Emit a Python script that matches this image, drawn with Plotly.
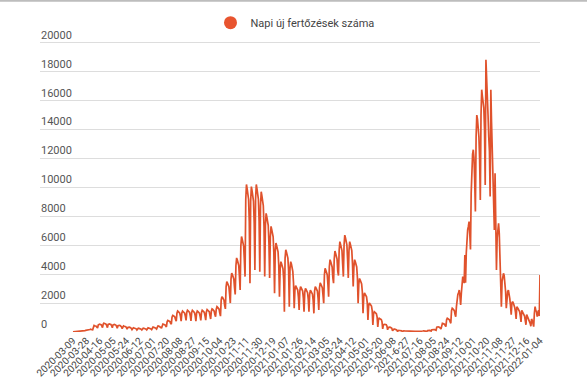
import pandas as pd
import plotly.graph_objects as go

# ---- categories (daily dates, one day missing in source, one odd label) ----
all_days = pd.date_range("2020-03-09", "2022-01-04", freq="D")
all_days = all_days[all_days != pd.Timestamp("2021-08-01")]
dates = [d.strftime("%Y-%m-%d") for d in all_days]
dates = ["2021-6-27" if d == "2021-06-27" else d for d in dates]

tick_labels = [
    "2020-03-09", "2020-03-28", "2020-04-16", "2020-05-05", "2020-05-24", "2020-06-12",
    "2020-07-01", "2020-07-20", "2020-08-08", "2020-08-27", "2020-09-15", "2020-10-04",
    "2020-10-23", "2020-11-11", "2020-11-30", "2020-12-19", "2021-01-07", "2021-01-26",
    "2021-02-14", "2021-03-05", "2021-03-24", "2021-04-12", "2021-05-01", "2021-05-20",
    "2021-06-08", "2021-6-27", "2021-07-16", "2021-08-05", "2021-08-24", "2021-09-12",
    "2021-10-01", "2021-10-20", "2021-11-08", "2021-11-27", "2021-12-16", "2022-01-04",
]
y_ticks = [0, 2000, 4000, 6000, 8000, 10000, 12000, 14000, 16000, 18000, 20000]

# ---- daily new infections (one row per week) ----
cases_2020_2021 = [
    5, 8, 10, 12, 15, 20, 15,
    15, 25, 35, 45, 50, 60, 55,
    45, 70, 85, 100, 110, 120, 100,
    90, 130, 150, 170, 190, 200, 160,
    150, 380, 450, 430, 420, 400, 330,
    280, 500, 560, 540, 520, 500, 420,
    300, 550, 610, 580, 560, 540, 450,
    300, 520, 580, 560, 540, 520, 430,
    290, 490, 540, 520, 500, 480, 400,
    260, 430, 480, 460, 450, 430, 360,
    230, 380, 420, 400, 390, 370, 310,
    190, 310, 340, 330, 320, 300, 250,
    160, 260, 290, 280, 270, 260, 220,
    140, 240, 260, 250, 240, 230, 195,
    140, 235, 260, 255, 245, 235, 200,
    150, 260, 290, 280, 270, 260, 215,
    170, 305, 340, 330, 320, 305, 255,
    210, 380, 420, 410, 395, 380, 315,
    260, 490, 550, 530, 515, 495, 410,
    350, 700, 800, 780, 750, 720, 600,
    550, 1030, 1150, 1120, 1080, 1040, 860,
    750, 1300, 1450, 1410, 1360, 1300, 1090,
    750, 1310, 1450, 1400, 1370, 1300, 1080,
    800, 1350, 1500, 1460, 1410, 1350, 1120,
    760, 1350, 1500, 1450, 1420, 1340, 1110,
    750, 1300, 1450, 1410, 1370, 1310, 1090,
    800, 1350, 1500, 1460, 1420, 1350, 1120,
    820, 1400, 1550, 1500, 1460, 1400, 1160,
    900, 1440, 1600, 1560, 1500, 1440, 1200,
    1060, 1580, 1750, 1700, 1650, 1580, 1310,
    1100, 2200, 2440, 2380, 2300, 2200, 1830,
    1600, 3130, 3480, 3380, 3270, 3130, 2600,
    2000, 3670, 4080, 3960, 3840, 3670, 3060,
    2600, 4600, 5120, 4970, 4810, 4600, 3840,
    2900, 5940, 6600, 6400, 6200, 5940, 4950,
    3830, 9180, 10200, 9900, 9600, 9180, 7650,
    3370, 9050, 10050, 9750, 9450, 9050, 7540,
    4290, 9180, 10200, 9900, 9590, 9180, 7650,
    4170, 8730, 9700, 9410, 9120, 8730, 7280,
    3830, 7380, 8200, 7950, 7710, 7380, 6150,
    3740, 6570, 7300, 7080, 6860, 6570, 5480,
    2680, 5540, 6150, 5970, 5780, 5540, 4610,
    2440, 4370, 4860, 4710, 4570, 4370, 3650,
    1400, 5110, 5680, 5510, 5340, 5110, 4260,
    1750, 4370, 4860, 4700, 4500, 4200, 3400,
    1640, 2900, 3200, 3100, 3000, 2900, 2400,
    1520, 2830, 3140, 3050, 2950, 2830, 2360,
    1400, 2720, 3020, 2930, 2840, 2720, 2270,
    1400, 2610, 2900, 2810, 2730, 2610, 2180,
    1290, 2830, 3140, 3050, 2950, 2830, 2360,
    1520, 3060, 3400, 3300, 3200, 3060, 2550,
    1990, 3960, 4400, 4270, 4140, 3960, 3300,
    2440, 4500, 5000, 4850, 4700, 4500, 3750,
    3370, 5040, 5600, 5430, 5260, 5040, 4200,
    3900, 5630, 6250, 6060, 5880, 5630, 4690,
    3830, 6030, 6700, 6500, 6300, 6030, 5030,
    3740, 5630, 6250, 6060, 5880, 5630, 4690,
    3140, 4500, 5000, 4850, 4700, 4500, 3750,
    1990, 3330, 3700, 3590, 3480, 3330, 2780,
    1300, 2430, 2700, 2620, 2540, 2430, 2030,
    830, 1800, 2000, 1940, 1880, 1800, 1500,
    480, 1260, 1400, 1360, 1320, 1260, 1050,
    350, 860, 950, 920, 890, 860, 710,
    220, 500, 550, 530, 520, 500, 410,
    150, 315, 350, 340, 330, 315, 260,
    90, 180, 200, 195, 190, 180, 150,
    50, 100, 110, 105, 100, 95, 80,
    30, 70, 80, 75, 72, 70, 55,
    25, 55, 60, 58, 55, 52, 45,
    20, 45, 50, 48, 46, 44, 38,
    20, 45, 52, 50, 48, 46, 40,
    30, 70, 80, 78, 75, 72, 60,
    40, 100, 120, 115, 110, 100,
]
cases_2021_2022 = [
    60, 160, 180, 175, 170, 160, 130,
    120, 330, 370, 360, 350, 330, 280,
    200, 540, 600, 580, 560, 540, 450,
    370, 850, 950, 920, 890, 850, 710,
    600, 1480, 1640, 1600, 1550, 1480, 1230,
    1060, 1750, 2440, 2600, 2700, 2900, 2500,
    1870, 2680, 3300, 3830, 3700, 3370, 5330,
    3400, 5450, 6500, 7060, 7300, 7630, 6800,
    5700, 9600, 11900, 12300, 12600, 12000, 10500,
    8330, 13500, 15000, 14700, 14200, 13500, 12000,
    9130, 15000, 16750, 16280, 16000, 15500, 14000,
    10170, 18820, 17000, 16000, 15000, 13500, 12500,
    9360, 16750, 14500, 13000, 11000, 9130, 7060,
    10980, 8000, 4290, 6500, 7060, 7520, 6800,
    5000, 3500, 1750, 3500, 3800, 4060, 3900,
    3500, 2800, 1640, 2500, 2800, 2900, 2700,
    2300, 1800, 1200, 2000, 2100, 2000, 1900,
    1700, 1400, 900, 1750, 1700, 1600, 1500,
    1400, 1100, 700, 1500, 1400, 1300, 1200,
    1100, 800, 500, 1200, 1100, 1000, 900,
    800, 600, 400, 900, 800, 600, 370,
    1300, 1750, 1500, 1400, 1060, 1400, 1500,
    1100, 3940,
]
cases = cases_2020_2021 + cases_2021_2022
assert len(cases) == len(dates), (len(cases), len(dates))

series_name = "Napi új fertőzések száma"
line_color = "#e0522c"

fig = go.Figure()
fig.add_trace(go.Scatter(
    x=dates, y=cases, mode="lines", line=dict(color=line_color, width=1.7),
    showlegend=False, name=series_name,
))
# legend-only entry with circle symbol
fig.add_trace(go.Scatter(
    x=[None], y=[None], mode="markers", name=series_name,
    marker=dict(color="#e8542f", size=13, symbol="circle"),
))

y_top = 21500
plot_h = 289 * y_top / 20000          # px height of plot area
top_m = 332 - plot_h

fig.update_layout(
    template="none",
    width=587, height=385,
    margin=dict(l=40, r=47, t=top_m, b=53, pad=0, autoexpand=False),
    paper_bgcolor="white", plot_bgcolor="white",
    font=dict(family="Roboto", size=11, color="#555555"),
    legend=dict(orientation="h", x=0.51, xanchor="center",
                y=1 - (23 - top_m) / plot_h, yanchor="middle",
                font=dict(size=11, color="#444444"), itemwidth=30,
                bgcolor="rgba(0,0,0,0)"),
    showlegend=True,
)
fig.update_xaxes(
    type="category", categoryorder="array", categoryarray=dates,
    range=[-47, len(dates) - 1], automargin=False,
    tickmode="array", tickvals=tick_labels, ticktext=tick_labels,
    tickangle=-45, tickfont=dict(size=10, color="#444444"),
    showgrid=False, showline=False, zeroline=False, ticks="",
)
fig.update_yaxes(
    range=[0, y_top], tickmode="array", tickvals=y_ticks, automargin=False,
    showticklabels=False,
    showgrid=True, gridcolor="#dddddd", gridwidth=1,
    zeroline=False, showline=False, ticks="",
)
# y tick labels: left-aligned, sitting just above each grid line
for v in y_ticks:
    fig.add_annotation(
        x=0, xref="paper", y=v, yref="y", text=str(v), showarrow=False,
        xanchor="left", yanchor="bottom", yshift=0, borderpad=0,
        font=dict(size=11, color="#555555"),
    )
# thin grey frame line at the very top of the image
fig.add_shape(type="line", xref="paper", yref="paper",
              x0=-40 / 500, x1=1 + 47 / 500,
              y0=1 + (top_m - 1) / plot_h, y1=1 + (top_m - 1) / plot_h,
              line=dict(color="#bdbdbd", width=2))

fig.write_html("out.html",
               config={"displayModeBar": False},
               post_script="document.body.style.margin='0';document.body.style.padding='0';")
